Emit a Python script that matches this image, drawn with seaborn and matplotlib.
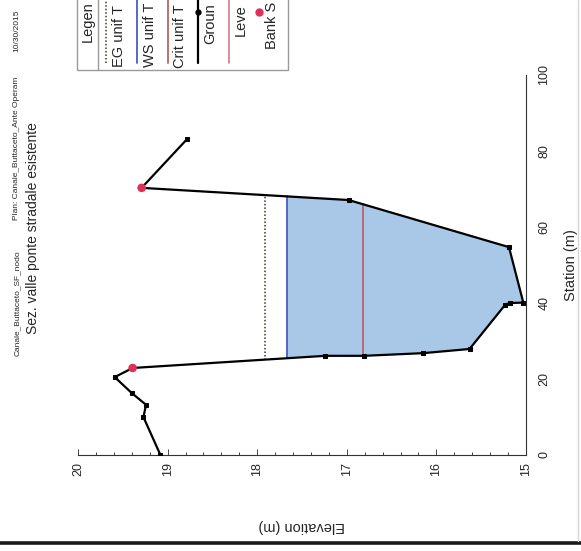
import numpy as np
import matplotlib.pyplot as plt
import seaborn as sns
from matplotlib.lines import Line2D
from matplotlib.patches import Rectangle
from matplotlib.ticker import MultipleLocator

# ground survey points of the section (station m, elevation m)
station = [0.0, 10.0, 13.2, 16.3, 20.5, 22.9, 26.1, 26.1, 26.8, 27.9, 39.6, 40.0, 40.1, 54.7, 67.1, 70.3, 83.2]
elevation = [19.08, 19.27, 19.24, 19.40, 19.59, 19.39, 17.24, 16.81, 16.15, 15.63, 15.23, 15.18, 15.03, 15.19, 16.98, 19.29, 18.78]
bank_sta = [22.9, 70.3]

# computed levels for the profile
eg_level = 17.91
ws_level = 17.67
crit_level = 16.82

legend_labels = ["EG unif T", "WS unif T", "Crit unif T", "Groun", "Leve", "Bank S"]
elev_ticks = [15, 16, 17, 18, 19, 20]
station_ticks = [0, 20, 40, 60, 80, 100]

title_1 = ["Canale_Buttaceto_SF_nodo", "Plan: Canale_Buttaceto_Ante Operam", "10/30/2015"]
title_2 = "Sez. valle ponte stradale esistente"

sns.set_style("ticks")
plt.rcParams["font.family"] = ["Liberation Sans", "DejaVu Sans"]

st = np.array(station)
el = np.array(elevation)


def wet_edges(level):
    # first and last crossing of the ground line with a level
    left = right = None
    for i in range(len(st) - 1):
        a, b = el[i], el[i + 1]
        if left is None and a >= level > b:
            left = st[i] + (a - level) / (a - b) * (st[i + 1] - st[i])
        if a < level <= b:
            right = st[i] + (level - a) / (b - a) * (st[i + 1] - st[i])
    return left, right


fig = plt.figure(figsize=(5.81, 5.51), dpi=100)
ax = fig.add_axes([78 / 581, 96 / 551, 448 / 581, 380 / 551])

# water area (the chart is printed turned by 90 degrees: elevation across, station up)
ax.fill_betweenx(st, el, ws_level, where=el < ws_level, interpolate=True,
                 color="#a9c8e7", linewidth=0, zorder=1)

s0, s1 = wet_edges(eg_level)
ax.plot([eg_level, eg_level], [s0, s1], color="#2f3f22", lw=1.1, ls=(0, (1, 1.3)), zorder=2)
s0, s1 = wet_edges(ws_level)
ax.plot([ws_level, ws_level], [s0, s1], color="#4a5cc0", lw=1.3, zorder=2)
s0, s1 = wet_edges(crit_level)
ax.plot([crit_level, crit_level], [s0, s1], color="#b86565", lw=1.3, zorder=2)

sns.lineplot(x=el, y=st, sort=False, estimator=None, color="black", lw=1.6,
             marker="s", markersize=3.5, markeredgecolor="black", ax=ax, zorder=3)
bank_el = [np.interp(bank_sta[0], st[:6], el[:6]), np.interp(bank_sta[1], st[-3:], el[-3:])]
sns.scatterplot(x=bank_el, y=bank_sta, color="#e0305a", s=38,
                edgecolor="none", ax=ax, zorder=4)

ax.set_xlim(20, 15)
ax.set_ylim(0, 100)
ax.set_xticks(elev_ticks)
ax.set_yticks(station_ticks)
ax.xaxis.set_minor_locator(MultipleLocator(0.2))
ax.yaxis.set_minor_locator(MultipleLocator(4))
ax.yaxis.tick_right()
ax.yaxis.set_label_position("right")
sns.despine(ax=ax, left=True, top=True, right=False, bottom=False)
for sp in ["bottom", "right"]:
    ax.spines[sp].set_linewidth(0.8)
    ax.spines[sp].set_color("#333333")
ax.tick_params(which="both", direction="in", color="#444444", width=0.7)
ax.tick_params(which="major", length=4)
ax.tick_params(which="minor", length=2.5)
ax.tick_params(axis="x", labelrotation=90, labelsize=9, pad=5)
ax.tick_params(axis="y", labelrotation=90, labelsize=9, pad=9)
for t in ax.get_yticklabels():
    t.set_va("center")
ax.set_xlabel("Elevation (m)", rotation=180, fontsize=10.5, labelpad=31)
ax.set_ylabel("Station (m)", rotation=90, fontsize=10.5, labelpad=10)


def fx(x):
    return x / 581


def fy(y):
    return 1 - y / 551


# header on the left side
tops = [250, 77, 10]
for s, y in zip(title_1, tops):
    fig.text(fx(17), fy(y), s, rotation=90, rotation_mode="anchor", ha="right",
             va="center", fontsize=6)
fig.text(fx(33), fy(122), title_2, rotation=90, rotation_mode="anchor", ha="right",
         va="center", fontsize=10)

# legend box, cut by the page edge
fig.add_artist(Rectangle((fx(77), fy(70)), fx(288) - fx(77), 0.2, transform=fig.transFigure,
                         facecolor="white", edgecolor="#9a9a9a", lw=1))
fig.add_artist(Line2D([fx(98), fx(98)], [fy(70), 1], transform=fig.transFigure, color="#9a9a9a", lw=1))
fig.text(fx(88), fy(42), "Legen", rotation=90, rotation_mode="anchor", ha="left", va="center", fontsize=10.5)

text_x = [119, 149.5, 180, 210.5, 241, 271.5]
text_y = [67, 67, 68, 44, 36, 49]
styles = [dict(color="#2f3f22", ls=(0, (1, 1.3)), lw=1.1),
          dict(color="#4a5cc0", ls="-", lw=1.3),
          dict(color="#b86565", ls="-", lw=1.3),
          dict(color="black", ls="-", lw=1.6),
          dict(color="#d07080", ls="-", lw=1.1)]
for i, lab in enumerate(legend_labels):
    fig.text(fx(text_x[i]), fy(text_y[i]), lab, rotation=90, rotation_mode="anchor",
             ha="left", va="center", fontsize=10.5)
    lx = fx(text_x[i] - 12.5)
    if i < len(styles):
        fig.add_artist(Line2D([lx, lx], [fy(63), 1], transform=fig.transFigure, **styles[i]))
    if i == 3:
        fig.add_artist(Line2D([lx], [fy(12)], transform=fig.transFigure, marker="o",
                              markersize=3.5, color="black"))
    if i == 5:
        fig.add_artist(Line2D([lx], [fy(12)], transform=fig.transFigure, marker="o",
                              markersize=6, color="#e0305a", markeredgecolor="none"))

# page frame
fig.add_artist(Line2D([0, 1], [fy(543), fy(543)], transform=fig.transFigure, color="#1a1a1a", lw=2.6))
fig.add_artist(Line2D([fx(578), fx(578)], [fy(541), 1], transform=fig.transFigure, color="#d5d5d5", lw=1))

fig.savefig("out.png", dpi=100)
